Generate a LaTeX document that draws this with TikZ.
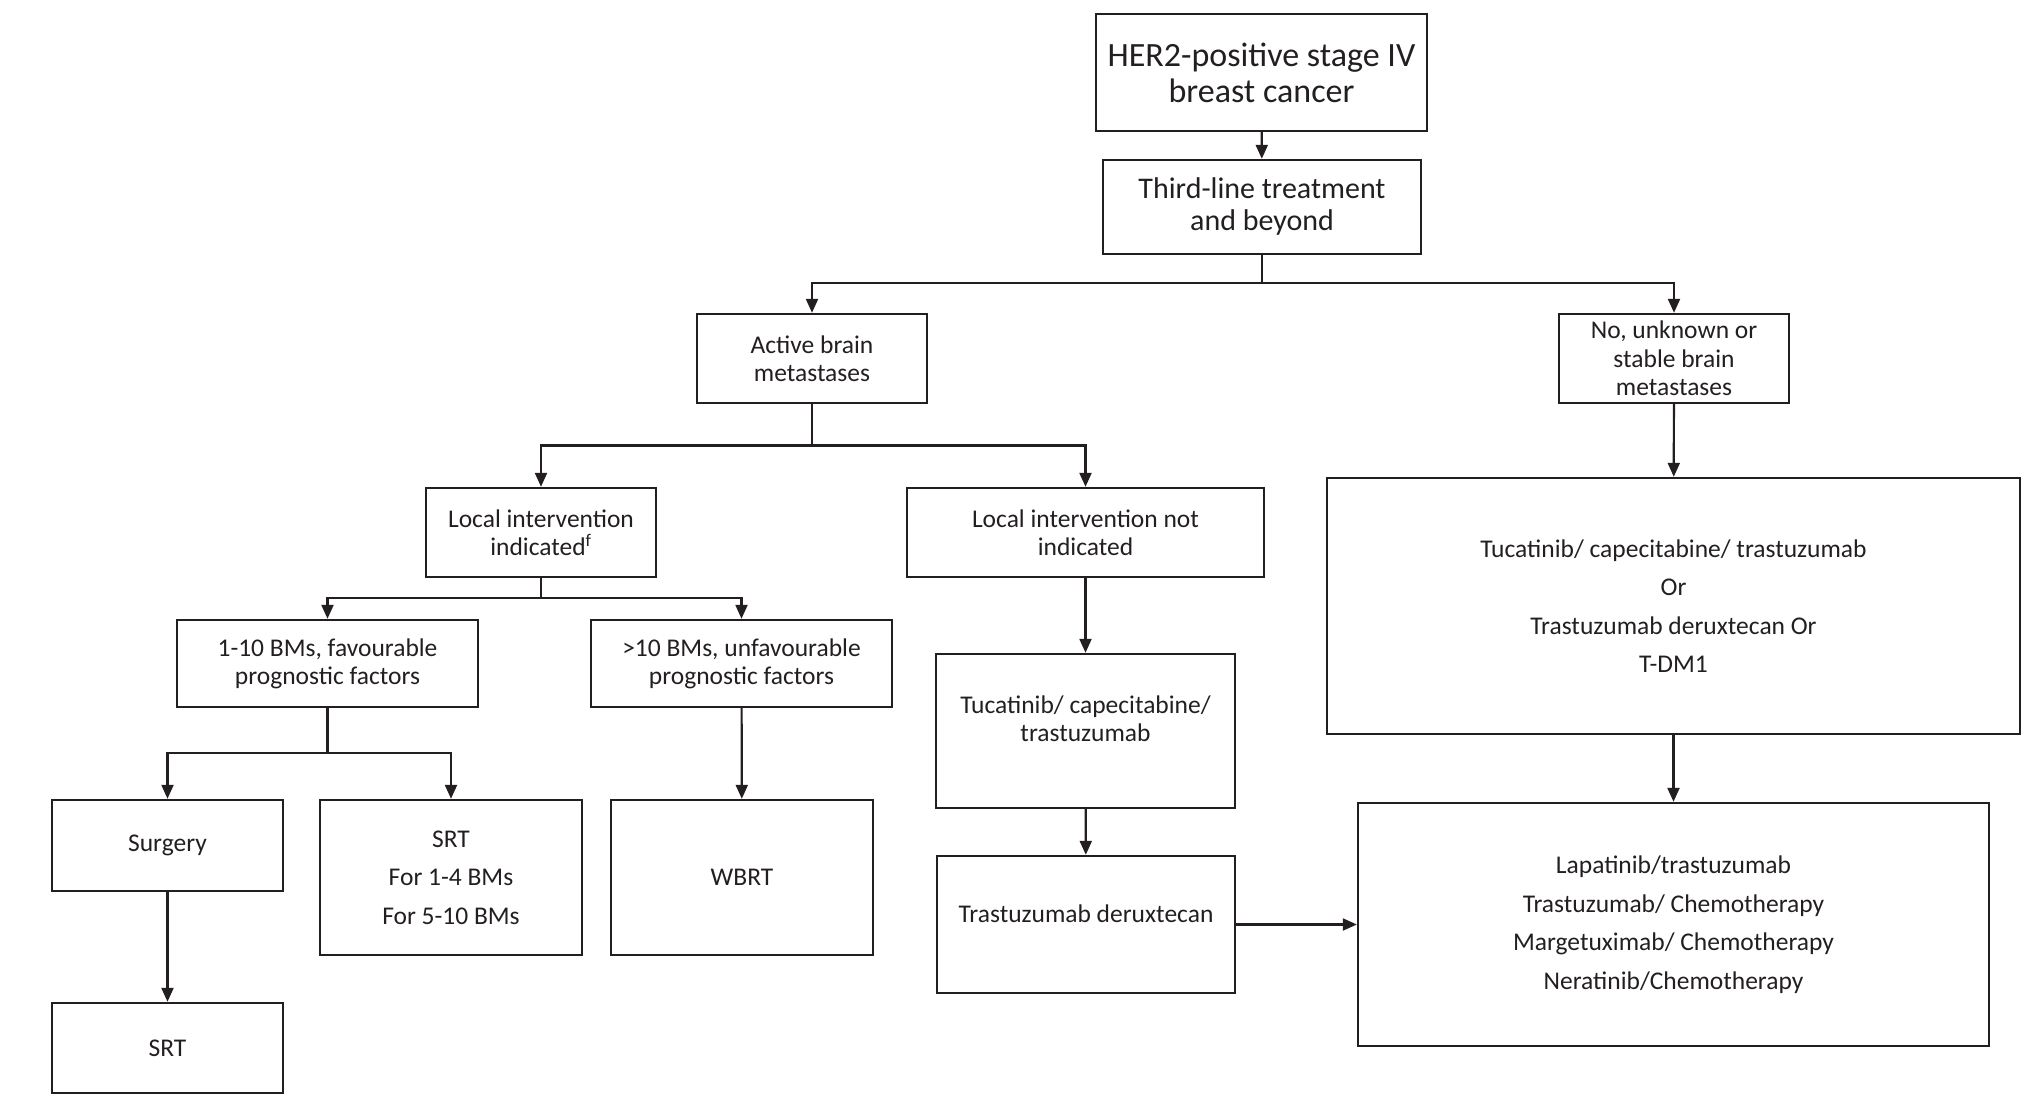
\documentclass[tikz,border=0pt]{standalone}
\usepackage{fontspec}
\setmainfont{Carlito}
\usetikzlibrary{arrows.meta}
\definecolor{ink}{HTML}{231F20}
\tikzset{
  box/.style={draw=ink, line width=2.4pt, inner sep=0pt, align=center, text=ink,
    font=\fontsize{25.5}{28}\selectfont},
  loose/.style={font=\fontsize{25.5}{38.5}\selectfont},
  conn/.style={draw=ink, line width=2.2pt},
  arr/.style={conn, -{Triangle[length=14pt,width=12pt]}},
}
\begin{document}
\begin{tikzpicture}[x=1pt,y=-1pt]
\useasboundingbox (0,0) rectangle (2024,1105);
% nodes
\node[box, minimum width=331, minimum height=117, font=\fontsize{34}{36}\selectfont] (her2) at (1261.5,72.5) {HER2-positive stage IV\\breast cancer};
\node[box, minimum width=318, minimum height=94, font=\fontsize{30}{32}\selectfont] (third) at (1262,207) {Third-line treatment\\and beyond};
\node[box, minimum width=230, minimum height=89] (active) at (812,358.5) {Active brain\\metastases};
\node[box, minimum width=230, minimum height=89, font=\fontsize{25.5}{28.5}\selectfont] (nounk) at (1674,358.5) {No, unknown or\\stable brain\\metastases};
\node[box, minimum width=230, minimum height=89] (locind) at (541,532.5) {Local intervention\\indicated\textsuperscript{f}};
\node[box, minimum width=357, minimum height=89] (locnot) at (1085.5,532.5) {Local intervention not\\indicated};
\node[box, loose, minimum width=693, minimum height=256] (bigR) at (1673.5,606) {Tucatinib/ capecitabine/ trastuzumab\\Or\\Trastuzumab deruxtecan Or\\T-DM1};
\node[box, minimum width=301, minimum height=87] (bmA) at (327.5,663.5) {1-10 BMs, favourable\\prognostic factors};
\node[box, minimum width=301, minimum height=87] (bmB) at (741.5,663.5) {>10 BMs, unfavourable\\prognostic factors};
\node[box, minimum width=299, minimum height=154, text depth=24pt] (tuc) at (1085.5,731) {Tucatinib/ capecitabine/\\trastuzumab};
\node[box, minimum width=231, minimum height=91] (surg) at (167.5,845.5) {Surgery};
\node[box, loose, minimum width=262, minimum height=155] (srt) at (451,877.5) {SRT\\For 1-4 BMs\\For 5-10 BMs};
\node[box, minimum width=262, minimum height=155] (wbrt) at (742,877.5) {WBRT};
\node[box, minimum width=298, minimum height=137, text depth=22pt] (tdx) at (1086,924.5) {Trastuzumab deruxtecan};
\node[box, loose, minimum width=631, minimum height=243] (lap) at (1673.5,924.5) {Lapatinib/trastuzumab\\Trastuzumab/ Chemotherapy\\Margetuximab/ Chemotherapy\\Neratinib/Chemotherapy};
\node[box, minimum width=231, minimum height=90] (srtb) at (167.5,1048) {SRT};
% junctions
\coordinate (j1) at (1262,283);
\coordinate (j2) at (812,445.5);
\coordinate (j3) at (541,598);
\coordinate (j4) at (327.5,753);
% connectors
\draw[arr] (her2) -- (third);
\draw[conn] (third.south) -- (j1);
\draw[arr] (j1) -| (active.north);
\draw[arr] (j1) -| (nounk.north);
\draw[conn] (active.south) -- (j2);
\draw[arr] (j2) -| (locind.north);
\draw[arr] (j2) -| (locnot.north);
\draw[conn] (locind.south) -- (j3);
\draw[arr] (j3) -| (bmA.north);
\draw[arr] (j3) -| (bmB.north);
\draw[conn] (bmA.south) -- (j4);
\draw[arr] (j4) -| (surg.north);
\draw[arr] (j4) -| (srt.north);
\draw[arr] (bmB) -- (wbrt);
\draw[arr] (surg) -- (srtb);
\draw[arr] (nounk) -- (bigR);
\draw[arr] (bigR) -- (lap);
\draw[arr] (locnot) -- (tuc);
\draw[arr] (tuc) -- (tdx);
\draw[arr] (tdx) -- (lap);
\end{tikzpicture}
\end{document}
